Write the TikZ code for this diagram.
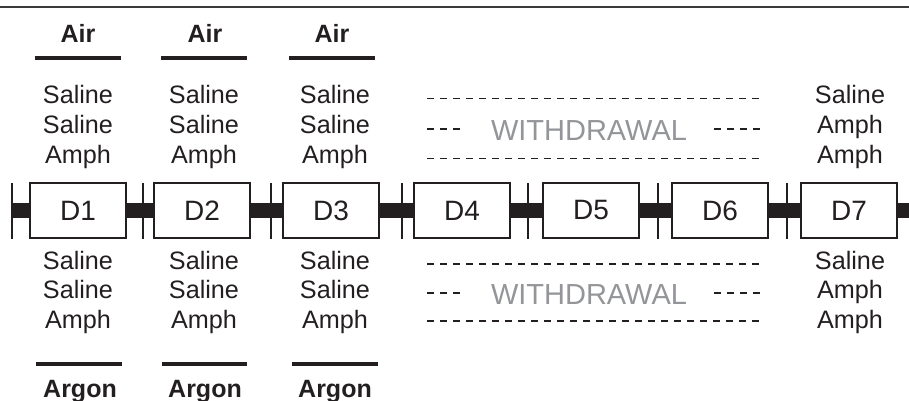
\documentclass[tikz,border=0pt]{standalone}
\usepackage{fontspec}
\setmainfont{Liberation Sans}
\definecolor{ink}{HTML}{231F20}
\definecolor{wdgray}{HTML}{939598}
\definecolor{topline}{HTML}{3A3A3A}
\begin{document}
\begin{tikzpicture}[x=1pt,y=-1pt,
  lab/.style={anchor=base, inner sep=0pt, font=\fontsize{25.2}{29}\selectfont, text=ink},
  head/.style={anchor=base, inner sep=0pt, font=\fontsize{25}{29}\selectfont\bfseries, text=ink},
  day/.style={draw=ink, line width=1.2pt, fill=white, minimum width=96pt, minimum height=55pt, inner sep=0pt, font=\fontsize{28}{30}\selectfont, text=ink},
  tickmark/.style={line width=1.8pt, draw=ink},
  rail/.style={line width=15pt, draw=ink},
  rulebar/.style={line width=4pt, draw=ink},
  dashrule/.style={line width=1.9pt, draw=ink, dash pattern=on 7pt off 6pt},
  wd/.style={anchor=base, inner sep=0pt, font=\fontsize{29}{30}\selectfont, text=wdgray}]

\useasboundingbox (0,0) rectangle (909,401);
\draw[line width=1.8pt, draw=topline] (0,7) -- (909,7);

% rail
\coordinate (railL) at (12,210.5);
\coordinate (railR) at (909,210.5);
\draw[rail] (railL) -- (railR);

% ticks
\foreach \x [count=\i] in {12,143,271,402,528,658,787}{
  \draw[tickmark] (\x,183) -- (\x,239);
}

% day boxes
\foreach \x [count=\i] in {78,202,331,462,591,720,849}{
  \node[day] (d\i) at (\x,210.5) {D\i};
}

% headers
\foreach \x/\a/\b [count=\i] in {78/35/121,205/161/247,332/289/375}{
  \node[head] (air\i) at (\x,42.7) {Air};
  \draw[rulebar] (\a,58) -- (\b,58);
}
\foreach \x/\a/\b [count=\i] in {80/36/122,205/162/247,335/292/378}{
  \node[head] (argon\i) at (\x,397) {Argon};
  \draw[rulebar] (\a,364) -- (\b,364);
}

% upper and lower treatment stacks
\foreach \x [count=\i] in {78,204,335}{
  \node[lab] (ua\i) at (\x,104) {Saline};
  \node[lab] (ub\i) at (\x,133.5) {Saline};
  \node[lab] (uc\i) at (\x,163) {Amph};
  \node[lab] (la\i) at (\x,269) {Saline};
  \node[lab] (lb\i) at (\x,298.5) {Saline};
  \node[lab] (lc\i) at (\x,328) {Amph};
}
\node[lab] (ua7) at (850,104) {Saline};
\node[lab] (ub7) at (850,133.5) {Amph};
\node[lab] (uc7) at (850,163) {Amph};
\node[lab] (la7) at (850,269) {Saline};
\node[lab] (lb7) at (850,298.5) {Amph};
\node[lab] (lc7) at (850,328) {Amph};

% withdrawal blocks
\foreach \ya/\yb/\yc/\yt/\n in {98.5/129/158.5/140/up,264/293/321/304/lo}{
  \draw[dashrule] (427,\ya) -- (760,\ya);
  \draw[dashrule] (427,\yb) -- (461,\yb);
  \draw[dashrule] (714,\yb) -- (761,\yb);
  \draw[dashrule] (427,\yc) -- (760,\yc);
  \node[wd] (wd\n) at (589,\yt) {WITHDRAWAL};
}
\end{tikzpicture}
\end{document}
